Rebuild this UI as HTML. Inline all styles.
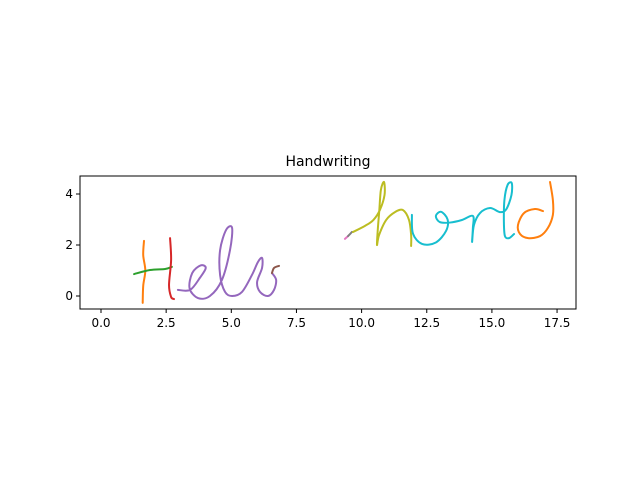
<!DOCTYPE html>
<html><head><meta charset="utf-8"><style>
body{margin:0;background:#fff}
svg text{font-family:"DejaVu Sans","Liberation Sans",sans-serif;fill:#000}
</style></head><body>
<svg width="640" height="480" viewBox="0 0 640 480">
<rect width="640" height="480" fill="#fff"/>
<g id="strokes"></g>
<g id="axes"></g>
<text x="328" y="166" font-size="14" text-anchor="middle">Handwriting</text>
</svg>
<script>
const xTicks=[0,2.5,5,7.5,10,12.5,15,17.5];
const xTickLabels=["0.0","2.5","5.0","7.5","10.0","12.5","15.0","17.5"];
const yTicks=[0,2,4];
const yTickLabels=["0","2","4"];
const colors=["#ff7f0e","#2ca02c","#d62728","#9467bd","#8c564b","#e377c2","#7f7f7f","#bcbd22","#17becf","#ff7f0e"];
const s1=[[1.65,2.16],[1.62,1.6],[1.7,1.0],[1.62,0.4],[1.6,-0.27]];
const s2=[[1.27,0.86],[1.88,1.02],[2.46,1.06],[2.72,1.14]];
const s3=[[2.65,2.27],[2.69,1.41],[2.61,0.43],[2.69,-0.04],[2.8,-0.12]];
const s4=[[2.95,0.24],[3.42,0.24],[3.8,0.72],[4.02,1.1],[3.82,1.2],[3.5,0.9],[3.4,0.3],[3.72,-0.08],[4.18,0],[4.64,0.63],[4.95,1.8],[5.03,2.67],[4.8,2.59],[4.57,1.8],[4.57,0.82],[4.76,0.16],[5.03,0],[5.41,0.16],[5.79,0.82],[6.02,1.33],[6.18,1.49],[6.18,1.1],[5.99,0.55],[6.1,0.16],[6.41,0],[6.64,0.24],[6.72,0.63],[6.56,0.9]];
const s5=[[6.56,0.9],[6.64,1.1],[6.83,1.18]];
const s6=[[9.36,2.24],[9.48,2.35]];
const s7=[[9.48,2.35],[9.63,2.51]];
const s8=[[9.67,2.51],[10.13,2.75],[10.45,2.98],[10.7,3.37],[10.88,3.96],[10.86,4.47],[10.74,4.16],[10.68,3.37],[10.62,2.59],[10.59,2.0],[10.67,2.39],[10.94,2.98],[11.28,3.29],[11.59,3.37],[11.82,2.98],[11.9,2.39],[11.9,1.96]];
const s9=[[11.93,3.18],[11.97,2.45],[12.32,2.04],[12.85,2.1],[13.24,2.55],[13.3,3.0],[13.05,3.3],[12.85,3.14],[13.0,2.9],[13.39,2.88],[13.85,2.98],[14.27,3.14],[14.27,2.67],[14.24,2.12],[14.31,2.78],[14.54,3.25],[14.93,3.45],[15.31,3.29],[15.55,3.4],[15.75,3.96],[15.76,4.43],[15.6,4.35],[15.48,3.76],[15.46,2.9],[15.5,2.35],[15.66,2.27],[15.85,2.43]];
const s10=[[17.23,4.47],[17.34,3.76],[17.34,3.18],[17.15,2.67],[16.85,2.35],[16.39,2.27],[16.08,2.43],[16.0,2.78],[16.23,3.25],[16.65,3.41],[16.96,3.33]];
const strokes=[s1,s2,s3,s4,s5,s6,s7,s8,s9,s10];
const X0=80,X1=576,Y0=176,Y1=309,xmin=-0.806,xmax=18.227,ymin=-0.51,ymax=4.706;
const sx=v=>X0+(v-xmin)/(xmax-xmin)*(X1-X0);
const sy=v=>Y1-(v-ymin)/(ymax-ymin)*(Y1-Y0);
const NS="http://www.w3.org/2000/svg";
function path(pts){
  const p=pts.map(q=>[sx(q[0]),sy(q[1])]);
  let d="M"+p[0][0]+","+p[0][1];
  for(let i=0;i<p.length-1;i++){
    const a=p[Math.max(i-1,0)],b=p[i],c=p[i+1],e=p[Math.min(i+2,p.length-1)];
    d+=" C"+(b[0]+(c[0]-a[0])/6)+","+(b[1]+(c[1]-a[1])/6)+" "+(c[0]-(e[0]-b[0])/6)+","+(c[1]-(e[1]-b[1])/6)+" "+c[0]+","+c[1];
  }
  return d;
}
const g=document.getElementById("strokes");
strokes.forEach((s,i)=>{
  const el=document.createElementNS(NS,"path");
  el.setAttribute("d",path(s));
  el.setAttribute("fill","none");
  el.setAttribute("stroke",colors[i]);
  el.setAttribute("stroke-width","2");
  el.setAttribute("stroke-linecap","round");
  
  
  g.appendChild(el);
});
const ax=document.getElementById("axes");
const fr=document.createElementNS(NS,"rect");
fr.setAttribute("x",X0);fr.setAttribute("y",Y0);fr.setAttribute("width",X1-X0);fr.setAttribute("height",Y1-Y0);
fr.setAttribute("fill","none");fr.setAttribute("stroke","#000");fr.setAttribute("stroke-width","1");


ax.appendChild(fr);
xTicks.forEach((t,i)=>{
  const x=sx(t);
  const l=document.createElementNS(NS,"line");
  l.setAttribute("x1",x);l.setAttribute("x2",x);l.setAttribute("y1",Y1);l.setAttribute("y2",Y1+4);l.setAttribute("stroke","#000");
  
  
  ax.appendChild(l);
  const tx=document.createElementNS(NS,"text");
  tx.setAttribute("x",x);tx.setAttribute("y",Y1+18);tx.setAttribute("font-size","12");tx.setAttribute("text-anchor","middle");
  tx.textContent=xTickLabels[i];
  
  
  ax.appendChild(tx);
});
yTicks.forEach((t,i)=>{
  const y=sy(t);
  const l=document.createElementNS(NS,"line");
  l.setAttribute("x1",X0-4);l.setAttribute("x2",X0);l.setAttribute("y1",y);l.setAttribute("y2",y);l.setAttribute("stroke","#000");
  
  
  ax.appendChild(l);
  const tx=document.createElementNS(NS,"text");
  tx.setAttribute("x",X0-7);tx.setAttribute("y",y+4);tx.setAttribute("font-size","12");tx.setAttribute("text-anchor","end");
  tx.textContent=yTickLabels[i];
  
  
  ax.appendChild(tx);
});
</script>
</body></html>
